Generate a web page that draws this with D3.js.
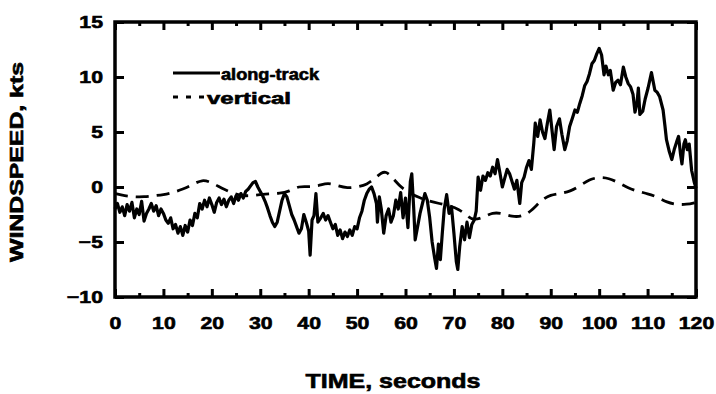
<!DOCTYPE html>
<html><head><meta charset="utf-8">
<script src="https://cdn.jsdelivr.net/npm/d3@7"></script>
<style>body{margin:0;background:#fff}</style>
</head><body><svg id="c" width="716" height="394"></svg>
<script>
const alongT = [0,0.5,1,1.5,2,2.5,3,3.5,4,4.5,5,5.5,6,6.5,7,7.5,8,8.5,9,9.5,10,10.5,11,11.5,12,12.5,13,13.5,14,14.5,15,15.5,16,16.5,17,17.5,18,18.5,19,19.5,20,20.5,21,21.5,22,22.5,23,23.5,24,24.5,25,25.5,26,26.5,27,27.5,28,28.5,29,29.5,30,30.5,31,31.5,32,32.5,33,33.5,34,34.5,35,35.5,36,36.5,37,37.5,38,38.5,39,39.5,40,40.3,40.7,41.1,41.5,41.9,42.5,43,43.5,44,44.5,45,45.5,46,46.5,47,47.5,48,48.5,49,49.5,50,50.5,51,51.5,52,52.5,53,53.5,54,54.2,54.6,55,55.5,56,56.5,57,57.5,58,58.5,59,59.5,60,60.5,61,61.3,61.7,62,62.5,63,63.5,64,64.5,65,65.5,66,66.4,66.8,67.2,67.6,68,68.5,69,69.5,70,70.5,70.8,71.2,71.7,72.2,72.7,73.2,73.7,74.2,74.6,75,75.5,76,76.5,77,77.5,78,78.5,79,79.5,80,80.5,81,81.5,82,82.5,83,83.6,84,84.5,85,85.5,86,86.5,86.8,87.3,87.8,88.3,88.8,89.3,89.8,90.3,90.7,91.2,91.8,92.3,92.9,93.4,93.9,94.5,95,95.5,96,96.5,97,97.5,98,98.5,99,99.5,100,100.5,101,101.4,101.9,102.3,102.9,103.4,103.9,104.4,105,105.5,106,106.5,107,107.4,107.8,108.1,108.4,109,109.5,110.1,110.8,111.5,112,112.5,113.2,113.6,113.9,114.5,115,115.5,116,116.4,116.8,117.1,117.5,117.8,118.2,118.6,119.1,119.6,120];
const alongV = [-2.0,-1.5,-2.3,-1.8,-2.6,-1.6,-2.2,-1.4,-2.8,-2.0,-2.5,-1.3,-3.1,-2.4,-2.0,-1.5,-2.2,-1.7,-2.6,-2.0,-2.4,-3.0,-3.3,-2.8,-3.8,-3.4,-4.2,-3.6,-4.4,-3.5,-4.1,-3.0,-3.5,-2.4,-2.8,-1.5,-2.0,-1.2,-1.8,-1.0,-1.6,-2.3,-1.4,-1.0,-1.6,-1.1,-1.8,-1.2,-0.9,-1.5,-0.8,-1.2,-0.6,-1.0,-0.4,-0.2,0.1,0.4,0.5,0.0,-0.4,-0.8,-1.3,-1.9,-2.6,-3.2,-3.6,-3.2,-2.2,-1.2,-0.6,-0.9,-1.7,-2.5,-3.0,-3.6,-4.2,-3.8,-2.5,-3.2,-4.0,-6.2,-3.0,-2.6,-0.6,-3.2,-2.8,-2.4,-3.0,-2.6,-3.2,-3.8,-3.4,-4.4,-3.9,-4.7,-4.1,-4.5,-3.9,-4.4,-3.6,-3.8,-2.8,-2.2,-1.2,-0.6,-0.2,0.0,-0.6,-1.5,-3.2,-0.9,-2.0,-4.2,-2.6,-2.0,-3.2,-2.6,-1.2,-2.0,-0.5,-2.8,-1.0,-3.7,0.5,1.2,-2.0,-4.8,-3.6,-2.4,-1.5,-0.6,-1.2,-2.8,-5.0,-6.4,-7.4,-5.2,-6.6,-4.2,-2.0,-0.7,-2.4,-1.8,-4.2,-6.8,-7.5,-5.4,-3.6,-4.8,-3.2,-4.6,-3.4,-3.0,-2.2,0.9,-0.3,1.0,0.6,1.3,1.0,1.8,1.2,2.5,1.3,0.0,0.8,1.6,1.2,0.5,-0.2,0.6,-1.5,0.4,0.9,1.8,2.4,1.6,4.0,5.8,4.6,6.1,5.0,4.4,5.8,7.0,5.0,3.4,5.5,6.2,4.8,3.4,4.2,5.5,6.3,7.0,6.8,7.6,8.3,9.2,9.6,10.3,11.2,11.5,12.1,12.6,12.0,10.2,11.0,10.2,10.6,8.8,9.5,9.7,9.3,10.9,10.0,9.4,9.1,8.4,6.8,7.6,9.0,6.6,6.9,8.0,9.0,10.4,8.8,8.6,8.2,7.0,5.5,4.3,3.2,2.5,3.4,4.1,4.6,3.0,2.1,3.9,4.3,3.4,3.9,1.5,0.5,-0.1];
const vertT = [0,2,4,6,8,10,12,14,16,18,20,22,24,26,28,30,32,34,36,38,40,42,44,46,48,50,52,54,55,56,57,58,59,61,63,65,67,69,71,73,74,76,78,80,82,84,86,88,90,92,94,96,98,100,102,104,106,108,110,112,114,116,118,120];
const vertV = [-0.6,-0.8,-0.9,-0.9,-0.8,-0.7,-0.5,-0.2,0.2,0.7,0.4,-0.1,-0.5,-0.8,-0.8,-0.7,-0.6,-0.6,-0.4,0.1,0.0,0.1,0.4,0.1,-0.1,0.0,0.2,0.9,1.3,1.4,1.0,0.5,0.0,-0.6,-1.0,-1.3,-1.5,-1.7,-2.0,-2.7,-3.0,-2.8,-2.3,-2.4,-2.7,-2.7,-2.2,-1.2,-0.7,-0.6,-0.4,0.1,0.7,0.9,0.8,0.4,-0.1,-0.4,-0.6,-0.9,-1.4,-1.6,-1.6,-1.4];
const xTicks = [0,10,20,30,40,50,60,70,80,90,100,110,120];
const xMinor = [5,15,25,35,45,55,65,75,85,95,105,115];
const yTicks = [-10,-5,0,5,10,15];
const seriesNames = ["along-track","vertical"];
const xTitle = "TIME, seconds";
const yTitle = "WINDSPEED, kts";

const svg = d3.select("#c");
const FONT = "'Liberation Sans', Arial, Helvetica, sans-serif";
const x = d3.scaleLinear().domain([0,120]).range([115,696]);
const y = d3.scaleLinear().domain([-10,15]).range([297,22]);

function boldText(sel, size){
  sel.attr("font-family",FONT).attr("font-weight","bold").attr("font-size",size)
     .attr("fill","#000").attr("stroke","#000").attr("stroke-width",0.6);
}

// series
const along = alongT.map((t,i)=>[t,alongV[i]]);
const vert = vertT.map((t,i)=>[t,vertV[i]]);
svg.append("path").datum(vert)
  .attr("d", d3.line().x(d=>x(d[0])).y(d=>y(d[1])).curve(d3.curveBasis))
  .attr("fill","none").attr("stroke","#000").attr("stroke-width",2.8)
  .attr("stroke-dasharray","13,8");
svg.append("path").datum(along)
  .attr("d", d3.line().x(d=>x(d[0])).y(d=>y(d[1])))
  .attr("fill","none").attr("stroke","#000").attr("stroke-width",3.2)
  .attr("stroke-linejoin","round");

// axes
function styleAxis(g){ g.select(".domain").remove(); g.selectAll(".tick line").attr("stroke","#000").attr("stroke-width",3); }
const gB = svg.append("g").attr("transform","translate(0,297)")
  .call(d3.axisBottom(x).tickValues(xTicks).tickSize(-8).tickPadding(20).tickFormat(d3.format("d")));
styleAxis(gB);
gB.selectAll("text").call(boldText,17).attr("transform","scale(1.25,1)");
const gBm = svg.append("g").attr("transform","translate(0,297)")
  .call(d3.axisBottom(x).tickValues(xMinor).tickSize(-4).tickFormat(""));
styleAxis(gBm);
const gT = svg.append("g").attr("transform","translate(0,22)")
  .call(d3.axisTop(x).tickValues(xTicks).tickSize(-8).tickFormat(""));
styleAxis(gT);
const gTm = svg.append("g").attr("transform","translate(0,22)")
  .call(d3.axisTop(x).tickValues(xMinor).tickSize(-4).tickFormat(""));
styleAxis(gTm);
const gL = svg.append("g").attr("transform","translate(115,0)")
  .call(d3.axisLeft(y).tickValues(yTicks).tickSize(-9).tickPadding(10).tickFormat(d3.format("d")));
styleAxis(gL);
gL.selectAll("text").call(boldText,17).attr("x",-12/1.25).attr("transform","scale(1.25,1)");
const gR = svg.append("g").attr("transform","translate(696,0)")
  .call(d3.axisRight(y).tickValues(yTicks).tickSize(-9).tickFormat(""));
styleAxis(gR);

// frame
svg.append("rect").attr("x",115).attr("y",22).attr("width",581).attr("height",275)
  .attr("fill","none").attr("stroke","#000").attr("stroke-width",3.5);

// legend
const leg = svg.append("g");
leg.append("line").attr("x1",173).attr("x2",220).attr("y1",73).attr("y2",73).attr("stroke","#000").attr("stroke-width",2.8);
leg.append("line").attr("x1",173).attr("x2",207).attr("y1",97).attr("y2",97).attr("stroke","#000").attr("stroke-width",2.8).attr("stroke-dasharray","5,8");
leg.selectAll("text.lg").data(seriesNames).join("text").attr("class","lg")
  .attr("x",(d,i)=> i===0 ? 221 : 207).attr("y",(d,i)=> i===0 ? 80 : 104)
  .call(boldText,16)
  .attr("textLength",(d,i)=> i===0 ? 98 : 84).attr("lengthAdjust","spacingAndGlyphs")
  .text(d=>d);

// titles
svg.append("text").attr("x",393).attr("y",388).attr("text-anchor","middle")
  .call(boldText,20)
  .attr("textLength",175).attr("lengthAdjust","spacingAndGlyphs").text(xTitle);
svg.append("text").attr("transform","translate(23,162) rotate(-90)").attr("text-anchor","middle")
  .call(boldText,18)
  .attr("textLength",200).attr("lengthAdjust","spacingAndGlyphs").text(yTitle);
</script></body></html>
